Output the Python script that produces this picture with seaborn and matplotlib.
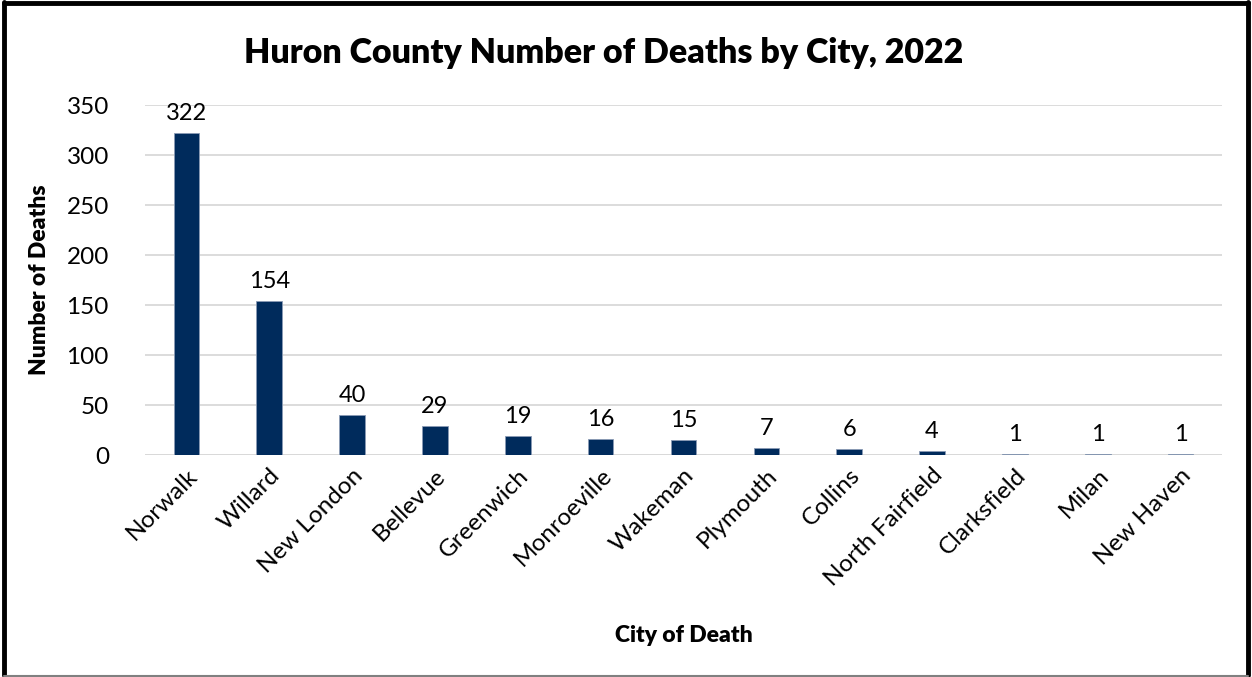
import matplotlib
matplotlib.use('Agg')
import matplotlib.pyplot as plt
import seaborn as sns
import pandas as pd
from matplotlib.lines import Line2D

# Datos
ciudades = ['Norwalk', 'Willard', 'New London', 'Bellevue', 'Greenwich', 'Monroeville',
            'Wakeman', 'Plymouth', 'Collins', 'North Fairfield', 'Clarksfield', 'Milan', 'New Haven']
muertes = [322, 154, 40, 29, 19, 16, 15, 7, 6, 4, 1, 1, 1]

df = pd.DataFrame({'ciudad': ciudades, 'muertes': muertes})

sns.set_style('white')
plt.rcParams['font.family'] = ['Lato', 'DejaVu Sans']
plt.rcParams['text.color'] = 'black'
plt.rcParams['axes.labelcolor'] = 'black'

fig = plt.figure(figsize=(12.52, 6.77), dpi=100)
ax = fig.add_axes([145 / 1252, 1 - 455 / 677, 1077 / 1252, 350 / 677])

sns.barplot(data=df, x='ciudad', y='muertes', color='#002B5C', width=0.31,
            saturation=1, ax=ax, edgecolor='#8a9bb5', linewidth=0.6, zorder=3)

for i, v in enumerate(muertes):
    ax.text(i, v + 9, str(v), ha='center', va='bottom', fontsize=17, color='black')

ax.set_ylim(0, 350)
ax.set_yticks(range(0, 351, 50))
ax.set_xlim(-0.5, len(ciudades) - 0.5)
ax.yaxis.grid(True, color='#d9d9d9', linewidth=1.3, zorder=0)
ax.set_axisbelow(True)
for s in ax.spines.values():
    s.set_visible(False)
ax.axhline(0, color='#d9d9d9', linewidth=1.3, zorder=1)

ax.tick_params(axis='both', length=0, labelsize=17.5, colors='black')
ax.tick_params(axis='y', pad=26)
ax.tick_params(axis='x', pad=7)
plt.setp(ax.get_xticklabels(), rotation=45, ha='right', rotation_mode='anchor')

ax.set_xlabel('City of Death', fontsize=16.5, fontweight='heavy', labelpad=25)
ax.set_ylabel('Number of Deaths', fontsize=16.5, fontweight='heavy', labelpad=12)
fig.text(0.482, 0.922, 'Huron County Number of Deaths by City, 2022', ha='center', va='center',
         fontsize=24.5, fontweight='heavy')

# Marco exterior
fig.add_artist(Line2D([0.003, 0.003], [0.003, 0.997], color='black', linewidth=3.5, transform=fig.transFigure))
fig.add_artist(Line2D([0.003, 0.997], [0.996, 0.996], color='black', linewidth=3.5, transform=fig.transFigure))
fig.add_artist(Line2D([0.997, 0.997], [0.003, 0.997], color='black', linewidth=3.5, transform=fig.transFigure))
fig.add_artist(Line2D([0.003, 0.997], [0.002, 0.002], color='#808080', linewidth=1.5, transform=fig.transFigure))

plt.savefig('out.png', dpi=100)
